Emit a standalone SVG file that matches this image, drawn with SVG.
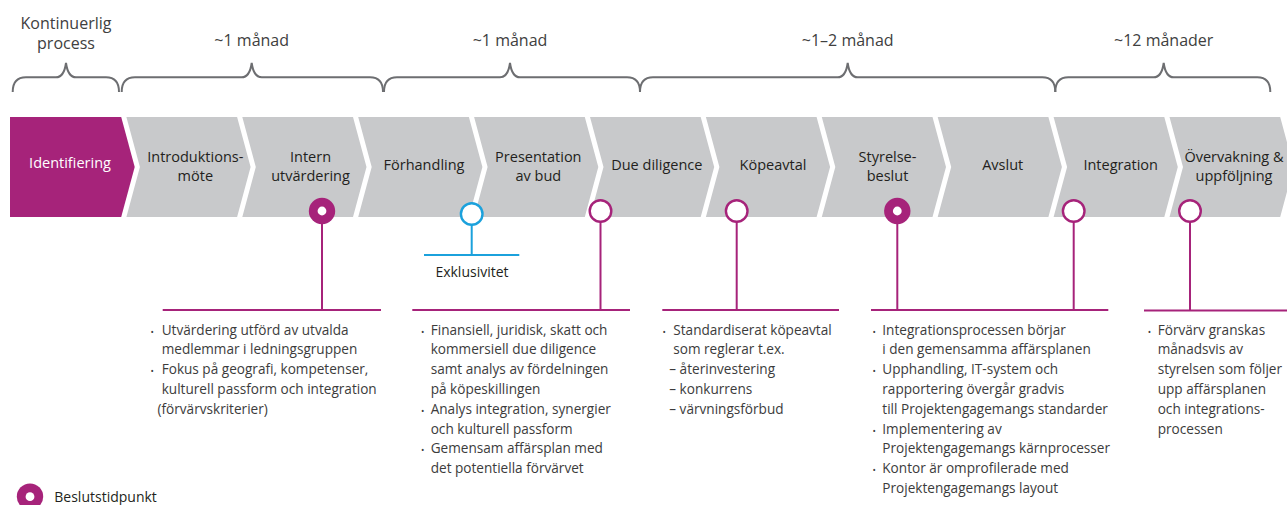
<svg xmlns="http://www.w3.org/2000/svg" width="1287" height="505" viewBox="0 0 1287 505">
<style>
.t{font-family:"Open Sans","Noto Sans",sans-serif}
.top{font-size:16px;fill:#404040;text-anchor:middle}
.lab{font-size:14.5px;fill:#231f20;text-anchor:middle}
.body{font-size:13.6px;fill:#3c3c3c}
.bul{font-size:9px;fill:#3c3c3c}
.ch{fill:#c8c9cb}
.brace{fill:none;stroke:#6d6e71;stroke-width:2}
.ml{stroke:#a6237a;stroke-width:2;fill:none}
.bl{stroke:#1ba1dc;stroke-width:2;fill:none}
.oc{fill:#fff;stroke:#a6237a;stroke-width:2.4}
.fc{fill:#a6237a}
.dot{fill:#fff}
</style>
<rect width="1287" height="505" fill="#fff"/>

<g id="braces">
<path class="brace" d="M12.7,92 Q12.7,77.3 26,77.3 L56,77.3 Q64,77.3 66,63 Q68,77.3 76,77.3 L106,77.3 Q119,77.3 119,92"/>
<path class="brace" d="M121.7,92 Q121.7,77.3 135,77.3 L241.7,77.3 Q249.7,77.3 251.7,63 Q253.7,77.3 261.7,77.3 L370,77.3 Q383,77.3 383,92"/>
<path class="brace" d="M384,92 Q384,77.3 397,77.3 L500,77.3 Q508,77.3 510,63 Q512,77.3 520,77.3 L627,77.3 Q640,77.3 640,92"/>
<path class="brace" d="M640,92 Q640,77.3 653,77.3 L837.7,77.3 Q845.7,77.3 847.7,63 Q849.7,77.3 857.7,77.3 L1042.3,77.3 Q1055.3,77.3 1055.3,92"/>
<path class="brace" d="M1055.3,92 Q1055.3,77.3 1068.3,77.3 L1153.7,77.3 Q1161.7,77.3 1163.7,63 Q1165.7,77.3 1173.7,77.3 L1257.3,77.3 Q1270.3,77.3 1270.3,92"/>
<text class="t top" x="66" y="29">Kontinuerlig</text>
<text class="t top" x="66" y="48.5">process</text>
<text class="t top" x="251.7" y="46">~1 månad</text>
<text class="t top" x="510" y="46">~1 månad</text>
<text class="t top" x="847.7" y="46">~1–2 månad</text>
<text class="t top" x="1163.7" y="46">~12 månader</text>
</g>

<g id="step-identifiering">
<polygon fill="#a6237a" points="10,117 121.2,117 134.7,167 121.2,217 10,217"/>
<text class="t lab" x="70" y="167.5" style="fill:#fff">Identifiering</text>
</g>
<g id="step-introduktionsmote">
<polygon class="ch" points="126.4,117 237.1,117 250.6,167 237.1,217 126.4,217 139.9,167"/>
<text class="t lab" x="195.3" y="162">Introduktions-</text>
<text class="t lab" x="195.3" y="181">möte</text>
</g>
<g id="step-intern">
<polygon class="ch" points="242.3,117 353,117 366.5,167 353,217 242.3,217 255.8,167"/>
<text class="t lab" x="310.5" y="162">Intern</text>
<text class="t lab" x="310.5" y="181">utvärdering</text>
</g>
<g id="step-forhandling">
<polygon class="ch" points="358.2,117 468.9,117 482.4,167 468.9,217 358.2,217 371.7,167"/>
<text class="t lab" x="424" y="170">Förhandling</text>
</g>
<g id="step-presentation">
<polygon class="ch" points="474.1,117 584.8,117 598.3,167 584.8,217 474.1,217 487.6,167"/>
<text class="t lab" x="538.3" y="162">Presentation</text>
<text class="t lab" x="538.3" y="181">av bud</text>
</g>
<g id="step-due-diligence">
<polygon class="ch" points="590,117 700.7,117 714.2,167 700.7,217 590,217 603.5,167"/>
<text class="t lab" x="656.8" y="170">Due diligence</text>
</g>
<g id="step-kopeavtal">
<polygon class="ch" points="705.9,117 816.6,117 830.1,167 816.6,217 705.9,217 719.4,167"/>
<text class="t lab" x="773" y="170">Köpeavtal</text>
</g>
<g id="step-styrelsebeslut">
<polygon class="ch" points="821.8,117 932.5,117 946,167 932.5,217 821.8,217 835.3,167"/>
<text class="t lab" x="887.5" y="162">Styrelse-</text>
<text class="t lab" x="887.5" y="181">beslut</text>
</g>
<g id="step-avslut">
<polygon class="ch" points="937.7,117 1048.4,117 1061.9,167 1048.4,217 937.7,217 951.2,167"/>
<text class="t lab" x="1002.7" y="170">Avslut</text>
</g>
<g id="step-integration">
<polygon class="ch" points="1053.6,117 1164.3,117 1177.8,167 1164.3,217 1053.6,217 1067.1,167"/>
<text class="t lab" x="1120.7" y="170">Integration</text>
</g>
<g id="step-overvakning">
<polygon class="ch" points="1169.5,117 1280.2,117 1293.7,167 1280.2,217 1169.5,217 1183,167"/>
<text class="t lab" x="1234" y="162">Övervakning &amp;</text>
<text class="t lab" x="1234" y="181">uppföljning</text>
</g>

<g id="connectors">
<line class="ml" x1="322" y1="211" x2="322" y2="310"/>
<line class="ml" x1="162.7" y1="310" x2="381" y2="310"/>
<line class="ml" x1="600.5" y1="222" x2="600.5" y2="310"/>
<line class="ml" x1="412.3" y1="310" x2="630" y2="310"/>
<line class="ml" x1="736.7" y1="222" x2="736.7" y2="310"/>
<line class="ml" x1="662.3" y1="310" x2="839" y2="310"/>
<line class="ml" x1="897.3" y1="211" x2="897.3" y2="310"/>
<line class="ml" x1="1073.7" y1="222" x2="1073.7" y2="310"/>
<line class="ml" x1="871" y1="310" x2="1108.3" y2="310"/>
<line class="ml" x1="1190" y1="222" x2="1190" y2="310.5"/>
<line class="ml" x1="1144" y1="310.5" x2="1287" y2="310.5"/>
<line class="bl" x1="471.7" y1="225" x2="471.7" y2="255"/>
<line class="bl" x1="424" y1="255" x2="519.3" y2="255"/>
</g>

<g id="milestones">
<circle class="fc" cx="322" cy="211" r="13.2"/><circle class="dot" cx="322" cy="211" r="4.4"/>
<circle cx="471.7" cy="214" r="10.8" fill="#fff" stroke="#1ba1dc" stroke-width="2.4"/>
<circle class="oc" cx="600.5" cy="211" r="10.8"/>
<circle class="oc" cx="736.7" cy="211" r="10.8"/>
<circle class="fc" cx="897.3" cy="211" r="13.2"/><circle class="dot" cx="897.3" cy="211" r="4.4"/>
<circle class="oc" cx="1073.7" cy="211" r="10.8"/>
<circle class="oc" cx="1190" cy="211" r="10.8"/>
</g>

<g id="exklusivitet">
<text class="t" x="472" y="276.7" font-size="14" fill="#231f20" text-anchor="middle">Exklusivitet</text>
</g>

<g id="notes-intern">
<text class="t bul" x="150.5" y="334.5">•</text>
<text class="t bul" x="150.5" y="374.1">•</text>
<text class="t body">
<tspan x="161.7" y="334.5">Utvärdering utförd av utvalda</tspan>
<tspan x="161.7" y="354.3">medlemmar i ledningsgruppen</tspan>
<tspan x="161.7" y="374.1">Fokus på geografi, kompetenser,</tspan>
<tspan x="161.7" y="393.9">kulturell passform och integration</tspan>
<tspan x="157.5" y="413.7">(förvärvskriterier)</tspan>
</text>
</g>

<g id="notes-due-diligence">
<text class="t bul" x="421" y="334.5">•</text>
<text class="t bul" x="421" y="413.7">•</text>
<text class="t bul" x="421" y="453.3">•</text>
<text class="t body">
<tspan x="430.7" y="334.5">Finansiell, juridisk, skatt och</tspan>
<tspan x="430.7" y="354.3">kommersiell due diligence</tspan>
<tspan x="430.7" y="374.1">samt analys av fördelningen</tspan>
<tspan x="430.7" y="393.9">på köpeskillingen</tspan>
<tspan x="430.7" y="413.7">Analys integration, synergier</tspan>
<tspan x="430.7" y="433.5">och kulturell passform</tspan>
<tspan x="430.7" y="453.3">Gemensam affärsplan med</tspan>
<tspan x="430.7" y="473.1">det potentiella förvärvet</tspan>
</text>
</g>

<g id="notes-kopeavtal">
<text class="t bul" x="662.5" y="334.5">•</text>
<text class="t body">
<tspan x="673.3" y="334.5">Standardiserat köpeavtal</tspan>
<tspan x="673.3" y="354.3">som reglerar t.ex.</tspan>
<tspan x="669.3" y="374.1">– återinvestering</tspan>
<tspan x="669.3" y="393.9">– konkurrens</tspan>
<tspan x="669.3" y="413.7">– värvningsförbud</tspan>
</text>
</g>

<g id="notes-integration">
<text class="t bul" x="872.5" y="334.5">•</text>
<text class="t bul" x="872.5" y="374.1">•</text>
<text class="t bul" x="872.5" y="433.5">•</text>
<text class="t bul" x="872.5" y="473.1">•</text>
<text class="t body">
<tspan x="882.3" y="334.5">Integrationsprocessen börjar</tspan>
<tspan x="882.3" y="354.3">i den gemensamma affärsplanen</tspan>
<tspan x="882.3" y="374.1">Upphandling, IT-system och</tspan>
<tspan x="882.3" y="393.9">rapportering övergår gradvis</tspan>
<tspan x="882.3" y="413.7">till Projektengagemangs standarder</tspan>
<tspan x="882.3" y="433.5">Implementering av</tspan>
<tspan x="882.3" y="453.3">Projektengagemangs kärnprocesser</tspan>
<tspan x="882.3" y="473.1">Kontor är omprofilerade med</tspan>
<tspan x="882.3" y="492.9">Projektengagemangs layout</tspan>
</text>
</g>

<g id="notes-overvakning">
<text class="t bul" x="1147.8" y="334.5">•</text>
<text class="t body">
<tspan x="1157.7" y="334.5">Förvärv granskas</tspan>
<tspan x="1157.7" y="354.3">månadsvis av</tspan>
<tspan x="1157.7" y="374.1">styrelsen som följer</tspan>
<tspan x="1157.7" y="393.9">upp affärsplanen</tspan>
<tspan x="1157.7" y="413.7">och integrations-</tspan>
<tspan x="1157.7" y="433.5">processen</tspan>
</text>
</g>

<g id="legend">
<circle class="fc" cx="30" cy="496.7" r="13.2"/><circle class="dot" cx="30" cy="496.7" r="4.4"/>
<text class="t" x="54.3" y="501.7" font-size="14" fill="#231f20">Beslutstidpunkt</text>
</g>
</svg>
